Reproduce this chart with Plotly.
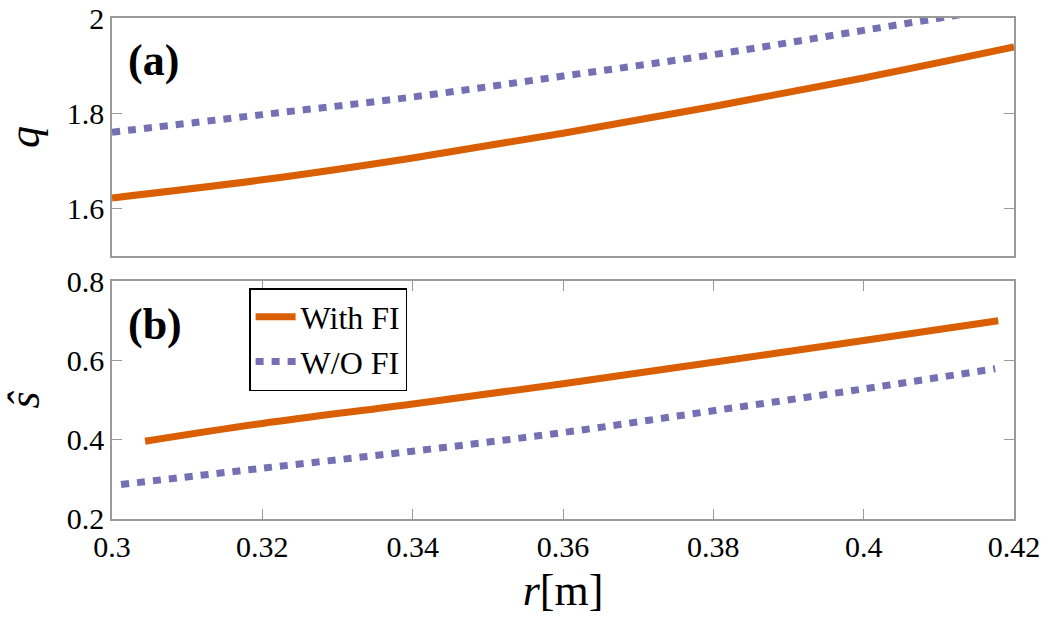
import plotly.graph_objects as go

# Data
r_q = [0.30, 0.32, 0.34, 0.36, 0.38, 0.40, 0.42]
q_with_fi = [1.622, 1.660, 1.706, 1.758, 1.814, 1.874, 1.939]
q_wo_fi = [1.760, 1.797, 1.834, 1.878, 1.923, 1.974, 2.025]

r_s_with = [0.3044, 0.32, 0.34, 0.36, 0.38, 0.40, 0.4179]
s_with_fi = [0.396, 0.441, 0.490, 0.541, 0.595, 0.650, 0.700]
r_s_wo = [0.3012, 0.32, 0.34, 0.36, 0.38, 0.40, 0.4175]
s_wo_fi = [0.287, 0.328, 0.371, 0.418, 0.473, 0.528, 0.579]

x_ticks = [0.30, 0.32, 0.34, 0.36, 0.38, 0.40, 0.42]
x_ticklabels = ["0.3", "0.32", "0.34", "0.36", "0.38", "0.4", "0.42"]
q_ticks = [1.6, 1.8, 2.0]
q_ticklabels = ["1.6", "1.8", "2"]
s_ticks = [0.2, 0.4, 0.6, 0.8]
s_ticklabels = ["0.2", "0.4", "0.6", "0.8"]

ORANGE = "#D95F02"
PURPLE = "#7570B3"
FONT = "Liberation Serif, serif"
AX = "#9a9a9a"

fig = go.Figure()
fig.add_trace(go.Scatter(x=r_q, y=q_with_fi, mode="lines", line=dict(color=ORANGE, width=7, shape="spline"),
                         xaxis="x", yaxis="y", showlegend=False, name="With FI"))
fig.add_trace(go.Scatter(x=r_q, y=q_wo_fi, mode="lines", line=dict(color=PURPLE, width=7, dash="8px,8px", shape="spline"),
                         xaxis="x", yaxis="y", showlegend=False, name="W/O FI"))
fig.add_trace(go.Scatter(x=r_s_with, y=s_with_fi, mode="lines", line=dict(color=ORANGE, width=7, shape="spline"),
                         xaxis="x2", yaxis="y2", name="With FI"))
fig.add_trace(go.Scatter(x=r_s_wo, y=s_wo_fi, mode="lines", line=dict(color=PURPLE, width=7, dash="8px,8px", shape="spline"),
                         xaxis="x2", yaxis="y2", name="W/O FI"))

fig.update_layout(
    width=1049, height=621, autosize=False,
    margin=dict(l=112, r=35, t=18, b=102, autoexpand=False),
    paper_bgcolor="white", plot_bgcolor="white",
    font=dict(family=FONT, color="black", size=30),
    xaxis=dict(domain=[0, 1], anchor="y", range=[0.3, 0.42], tickvals=x_ticks, showticklabels=False, ticks=""),
    yaxis=dict(domain=[0.525, 1], anchor="x", range=[1.5, 2.0], tickvals=q_ticks, ticktext=q_ticklabels),
    xaxis2=dict(domain=[0, 1], anchor="y2", range=[0.3, 0.42], tickvals=x_ticks, ticktext=x_ticklabels, ticks="inside"),
    yaxis2=dict(domain=[0, 0.475], anchor="x2", range=[0.2, 0.8], tickvals=s_ticks, ticktext=s_ticklabels),
    legend=dict(x=0.152, y=0.461, xanchor="left", yanchor="top", bgcolor="white",
                bordercolor="black", borderwidth=1.5, font=dict(family=FONT, size=32, color="black"),
                itemwidth=40),
    annotations=[
        dict(text="<b>(a)</b>", x=0.016, y=0.916, xref="paper", yref="paper", xanchor="left", yanchor="middle",
             showarrow=False, font=dict(family=FONT, size=44, color="black")),
        dict(text="<b>(b)</b>", x=0.016, y=0.389, xref="paper", yref="paper", xanchor="left", yanchor="middle",
             showarrow=False, font=dict(family=FONT, size=44, color="black")),
    ],
)
fig.update_xaxes(showgrid=False, zeroline=False, showline=True, linecolor=AX, linewidth=1.5,
                 mirror=True, ticklen=10, tickcolor=AX, tickwidth=1.2, automargin=False,
                 tickfont=dict(family=FONT, size=30, color="black"))
fig.update_yaxes(showgrid=False, zeroline=False, showline=True, linecolor=AX, linewidth=1.5,
                 mirror="ticks", ticks="inside", ticklen=10, tickcolor=AX, tickwidth=1.2, automargin=False,
                 tickfont=dict(family=FONT, size=30, color="black"))
fig.layout.xaxis2.mirror = "ticks"
fig.layout.yaxis.title = dict(text="<i>q</i>", font=dict(family=FONT, size=44), standoff=14)
fig.layout.yaxis2.title = dict(text="<i>ŝ</i>", font=dict(family=FONT, size=44), standoff=14)
fig.layout.xaxis2.title = dict(text="<i>r</i>[m]", font=dict(family=FONT, size=44), standoff=12)

fig.write_html("out.html", config={"displayModeBar": False},
               post_script="document.body.style.margin='0';document.body.style.padding='0';")
